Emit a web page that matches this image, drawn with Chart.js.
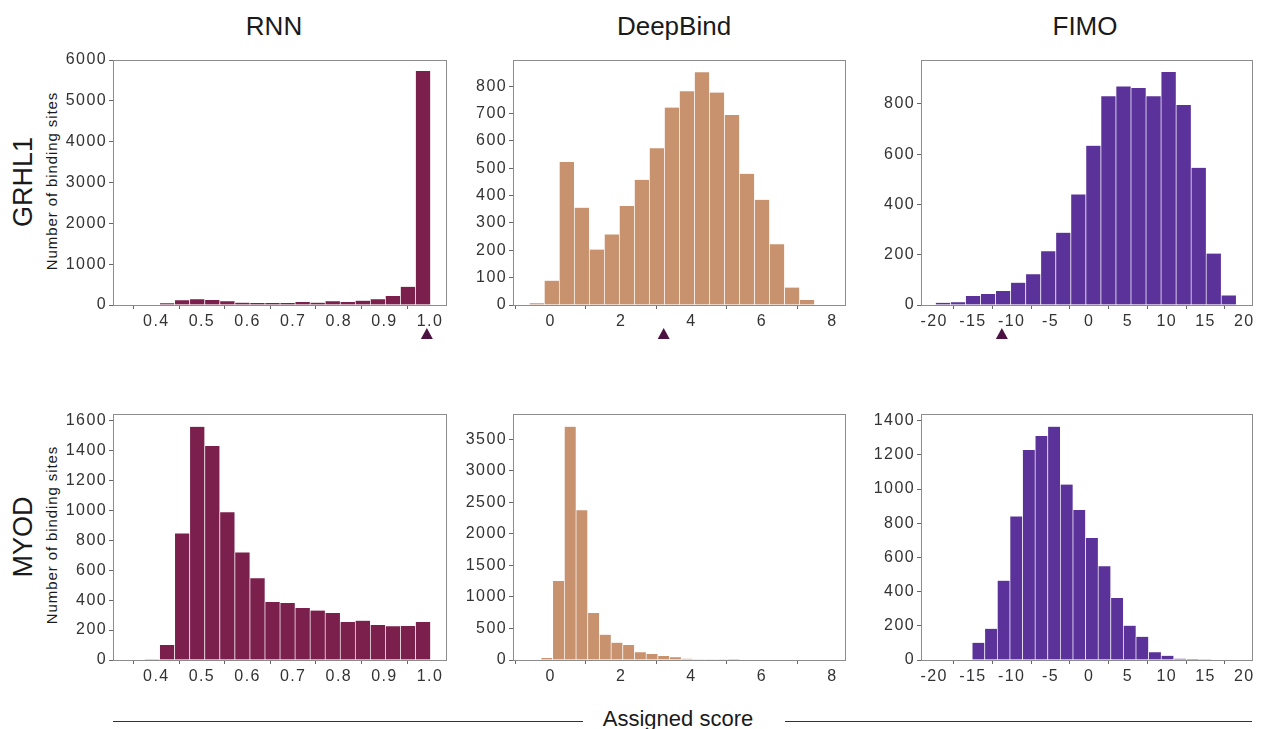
<!doctype html>
<html>
<head>
<title>Assigned score histograms</title>
<script src="https://cdn.jsdelivr.net/npm/chart.js@4.4.1/dist/chart.umd.min.js"></script>
<style>
  body { margin: 0; background: #fff; font-family: "Liberation Sans", Arial, sans-serif; color: #1a1a1a; }
  #page { position: relative; width: 1261px; height: 729px; overflow: hidden; }
  .box { position: absolute; }
  .lbl { position: absolute; white-space: nowrap; transform: translate(-50%, -50%); }
  .rot { transform: translate(-50%, -50%) rotate(-90deg); }
  .rule { position: absolute; height: 0; border-top: 1.5px solid #333; }
</style>
</head>
<body>
<div id="page">
  <div class="lbl" style="left:274px;top:26px;font-size:26px;">RNN</div>
  <div class="lbl" style="left:674px;top:26px;font-size:26px;">DeepBind</div>
  <div class="lbl" style="left:1085px;top:26px;font-size:26px;">FIMO</div>

  <div class="lbl rot" style="left:23px;top:182px;font-size:27px;">GRHL1</div>
  <div class="lbl rot" style="left:23px;top:537px;font-size:27px;">MYOD</div>
  <div class="lbl rot" style="left:51px;top:181px;font-size:15px;letter-spacing:0.9px;">Number of binding sites</div>
  <div class="lbl rot" style="left:51px;top:535px;font-size:15px;letter-spacing:0.9px;">Number of binding sites</div>

  <div class="rule" style="left:113px;top:721px;width:470px;"></div>
  <div class="rule" style="left:785px;top:721px;width:467px;"></div>
  <div class="lbl" style="left:678px;top:719px;font-size:22px;">Assigned score</div>
</div>
<script>
// bin centres (assigned score) and counts
var rnnBins = [0.39, 0.423, 0.456, 0.489, 0.522, 0.555, 0.588, 0.621, 0.654, 0.687, 0.72, 0.753, 0.786, 0.819, 0.852, 0.885, 0.918, 0.951, 0.984];
var rnnGrhl1 = [0, 40, 114, 138, 122, 89, 57, 49, 49, 49, 73, 57, 89, 73, 106, 138, 220, 447, 5730];
var rnnMyod = [5, 100, 846, 1559, 1430, 987, 719, 546, 388, 381, 347, 330, 314, 254, 263, 234, 225, 227, 254];

var deepGrhl1Bins = [-0.403, 0.024, 0.45, 0.877, 1.303, 1.73, 2.156, 2.583, 3.009, 3.436, 3.862, 4.289, 4.715, 5.142, 5.568, 5.995, 6.421, 6.848, 7.274, 7.701];
var deepGrhl1 = [6, 89, 523, 356, 203, 258, 362, 458, 573, 722, 782, 851, 777, 695, 480, 385, 222, 64, 18, 2];
var deepMyodBins = [-0.118, 0.214, 0.546, 0.878, 1.21, 1.542, 1.874, 2.206, 2.538, 2.87, 3.202, 3.534, 3.866, 4.198, 4.53, 4.862, 5.194];
var deepMyod = [32, 1253, 3701, 2374, 745, 402, 275, 238, 122, 95, 63, 42, 21, 11, 5, 2, 1];

var fimoGrhl1Bins = [-18.9, -16.96, -15.02, -13.08, -11.14, -9.2, -7.26, -5.32, -3.38, -1.44, 0.5, 2.44, 4.38, 6.32, 8.26, 10.2, 12.14, 14.08, 16.02, 17.96];
var fimoGrhl1 = [9, 11, 36, 44, 56, 89, 122, 214, 288, 440, 634, 831, 870, 864, 831, 927, 796, 546, 205, 38];
var fimoMyodBins = [-14.33, -12.704, -11.078, -9.452, -7.826, -6.2, -4.574, -2.948, -1.322, 0.304, 1.93, 3.556, 5.182, 6.808, 8.434, 10.06, 11.686, 13.312, 14.938];
var fimoMyod = [101, 183, 464, 840, 1228, 1310, 1365, 1026, 877, 714, 548, 363, 201, 136, 45, 25, 8, 6, 2];

// tick labels
var rnnXTicks = [0.4, 0.5, 0.6, 0.7, 0.8, 0.9, 1.0];
var deepXTicks = [0, 2, 4, 6, 8];
var fimoXTicks = [-20, -15, -10, -5, 0, 5, 10, 15, 20];
var rnnGrhl1YTicks = [0, 1000, 2000, 3000, 4000, 5000, 6000];
var deepGrhl1YTicks = [0, 100, 200, 300, 400, 500, 600, 700, 800];
var fimoGrhl1YTicks = [0, 200, 400, 600, 800];
var rnnMyodYTicks = [0, 200, 400, 600, 800, 1000, 1200, 1400, 1600];
var deepMyodYTicks = [0, 500, 1000, 1500, 2000, 2500, 3000, 3500];
var fimoMyodYTicks = [0, 200, 400, 600, 800, 1000, 1200, 1400];

// score of the GRHL1 motif itself (triangle under the axis)
var grhl1Markers = { rnn: 0.993, deep: 3.21, fimo: -11.27 };

var colors = { rnn: '#7b1f4c', deep: '#c8926f', fimo: '#5b3299' };

var frame = {
  id: 'frame',
  beforeDraw: function(chart) {
    chart.ctx.letterSpacing = '1.4px';
  },
  afterDraw: function(chart) {
    var a = chart.chartArea, ctx = chart.ctx;
    ctx.save();
    ctx.strokeStyle = '#8c8c8c';
    ctx.lineWidth = 1;
    ctx.strokeRect(Math.round(a.left) + 0.5, Math.round(a.top) + 0.5, Math.round(a.right - a.left), Math.round(a.bottom - a.top));
    var m = chart.options.plugins.frame.marker;
    if (m !== undefined) {
      var x = chart.scales.x.getPixelForValue(m);
      var y = a.bottom + 23;
      ctx.fillStyle = '#4b1242';
      ctx.beginPath();
      ctx.moveTo(x, y);
      ctx.lineTo(x + 6, y + 11);
      ctx.lineTo(x - 6, y + 11);
      ctx.closePath();
      ctx.fill();
    }
    ctx.restore();
  }
};

function makePanel(left, top, w, h, bins, counts, color, xMin, xMax, xTicks, yMax, yTicks, decimals, marker) {
  var padT = 12, padR = 12, yW = 70, xH = 48;
  var div = document.createElement('div');
  div.className = 'box';
  div.style.left = (left - yW) + 'px';
  div.style.top = (top - padT) + 'px';
  div.style.width = (w + yW + padR) + 'px';
  div.style.height = (h + padT + xH) + 'px';
  var cv = document.createElement('canvas');
  div.appendChild(cv);
  document.getElementById('page').appendChild(div);

  var pts = bins.map(function(b, i) { return { x: b, y: counts[i] }; });
  var tickFont = { family: '"Liberation Sans", Arial, sans-serif', size: 16 };

  return new Chart(cv.getContext('2d'), {
    type: 'bar',
    data: {
      datasets: [{
        data: pts,
        backgroundColor: color,
        borderColor: 'rgba(255,255,255,0.25)',
        borderWidth: { left: 1, right: 0, top: 0, bottom: 0 },
        borderSkipped: false,
        barPercentage: 1,
        categoryPercentage: 1
      }]
    },
    options: {
      responsive: true,
      maintainAspectRatio: false,
      animation: false,
      layout: { padding: { top: padT, right: padR, left: 0, bottom: 0 }, autoPadding: false },
      plugins: { legend: { display: false }, tooltip: { enabled: false }, frame: { marker: marker } },
      scales: {
        x: {
          type: 'linear',
          min: xMin,
          max: xMax,
          offset: false,
          border: { display: false },
          grid: { drawOnChartArea: false, drawTicks: true, tickLength: 4, color: '#666' },
          ticks: {
            color: '#333',
            font: tickFont,
            padding: 3,
            maxRotation: 0,
            autoSkip: false,
            callback: function(v) { return Number(v).toFixed(decimals); }
          },
          afterBuildTicks: function(s) { s.ticks = xTicks.map(function(v) { return { value: v }; }); },
          afterFit: function(s) { s.height = xH; }
        },
        y: {
          min: 0,
          max: yMax,
          border: { display: false },
          grid: { drawOnChartArea: false, drawTicks: true, tickLength: 4, color: '#666' },
          ticks: {
            color: '#333',
            font: tickFont,
            padding: 2,
            autoSkip: false,
            callback: function(v) { return String(v); }
          },
          afterBuildTicks: function(s) { s.ticks = yTicks.map(function(v) { return { value: v }; }); },
          afterFit: function(s) { s.width = yW; }
        }
      }
    },
    plugins: [frame]
  });
}

window.onload = function() {
  var cols = [113, 513, 921], widths = [333, 332, 331];
  var rows = [60, 414], heights = [245, 246];

  makePanel(cols[0], rows[0], widths[0], heights[0], rnnBins, rnnGrhl1, colors.rnn, 0.305, 1.035, rnnXTicks, 6000, rnnGrhl1YTicks, 1, grhl1Markers.rnn);
  makePanel(cols[1], rows[0], widths[1], heights[0], deepGrhl1Bins, deepGrhl1, colors.deep, -1.07, 8.36, deepXTicks, 896, deepGrhl1YTicks, 0, grhl1Markers.deep);
  makePanel(cols[2], rows[0], widths[2], heights[0], fimoGrhl1Bins, fimoGrhl1, colors.fimo, -21.7, 21.0, fimoXTicks, 975, fimoGrhl1YTicks, 0, grhl1Markers.fimo);

  makePanel(cols[0], rows[1], widths[0], heights[1], rnnBins, rnnMyod, colors.rnn, 0.305, 1.035, rnnXTicks, 1644, rnnMyodYTicks, 1);
  makePanel(cols[1], rows[1], widths[1], heights[1], deepMyodBins, deepMyod, colors.deep, -1.07, 8.36, deepXTicks, 3902, deepMyodYTicks, 0);
  makePanel(cols[2], rows[1], widths[2], heights[1], fimoMyodBins, fimoMyod, colors.fimo, -21.7, 21.0, fimoXTicks, 1439, fimoMyodYTicks, 0);
};
</script>
</body>
</html>
